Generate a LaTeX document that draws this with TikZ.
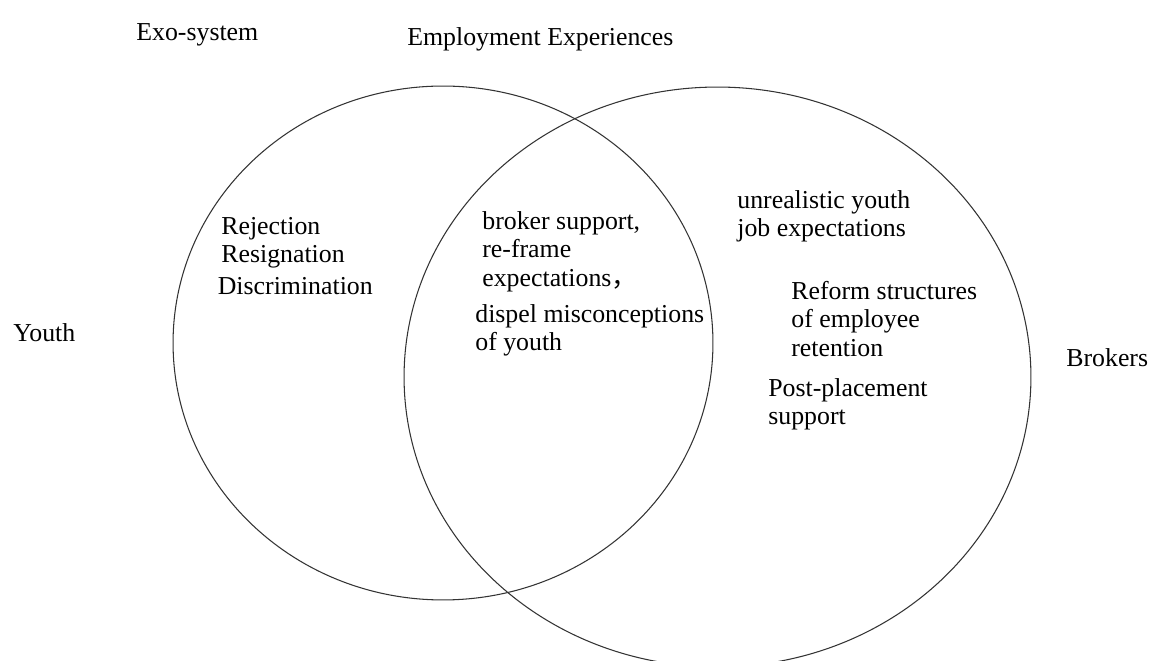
\documentclass[tikz,border=0pt]{standalone}
\usepackage{fontspec}
\setmainfont{Liberation Serif}
\newfontfamily\cjkfont{Noto Sans CJK SC}
\usepackage{tikz}

\begin{document}
\begin{tikzpicture}[x=0.02cm,y=-0.02cm,
    ring/.style={draw=black!80,line width=0.6pt},
    lbl/.style={font=\fontsize{14.7}{16.2}\selectfont,inner sep=0pt,align=left,anchor=north west}]
    \begin{scope}
      \clip (0,0) rectangle (1150,661);
      \fill[white] (0,0) rectangle (1150,661);
      \draw[ring] (443,343) ellipse [x radius=5.4cm, y radius=5.14cm];
      \draw[ring] (717.5,377) ellipse [x radius=6.27cm, y radius=5.8cm];
      \node[lbl] (exo)     at (136,23)   {Exo-system};
      \node[lbl] (emp)     at (407,27)   {Employment Experiences};
      \node[lbl] (youth)   at (13,323)   {Youth};
      \node[lbl] (brokers) at (1066,348) {Brokers};
      \node[lbl] (barriers) at (221,217) {Rejection\\Resignation\\[2pt]\hspace*{-2pt}Discrimination};
      \node[lbl] (support) at (482,211)  {broker support,\\re-frame\\expectations{\cjkfont ，}};
      \node[lbl] (dispel)  at (475,304)  {dispel misconceptions\\of youth};
      \node[lbl] (unreal)  at (737,190)  {unrealistic youth\\job expectations};
      \node[lbl] (reform)  at (791,281)  {Reform structures\\of employee\\retention};
      \node[lbl] (post)    at (768,378)  {Post-placement\\support};
    \end{scope}
  \end{tikzpicture}
\end{document}
